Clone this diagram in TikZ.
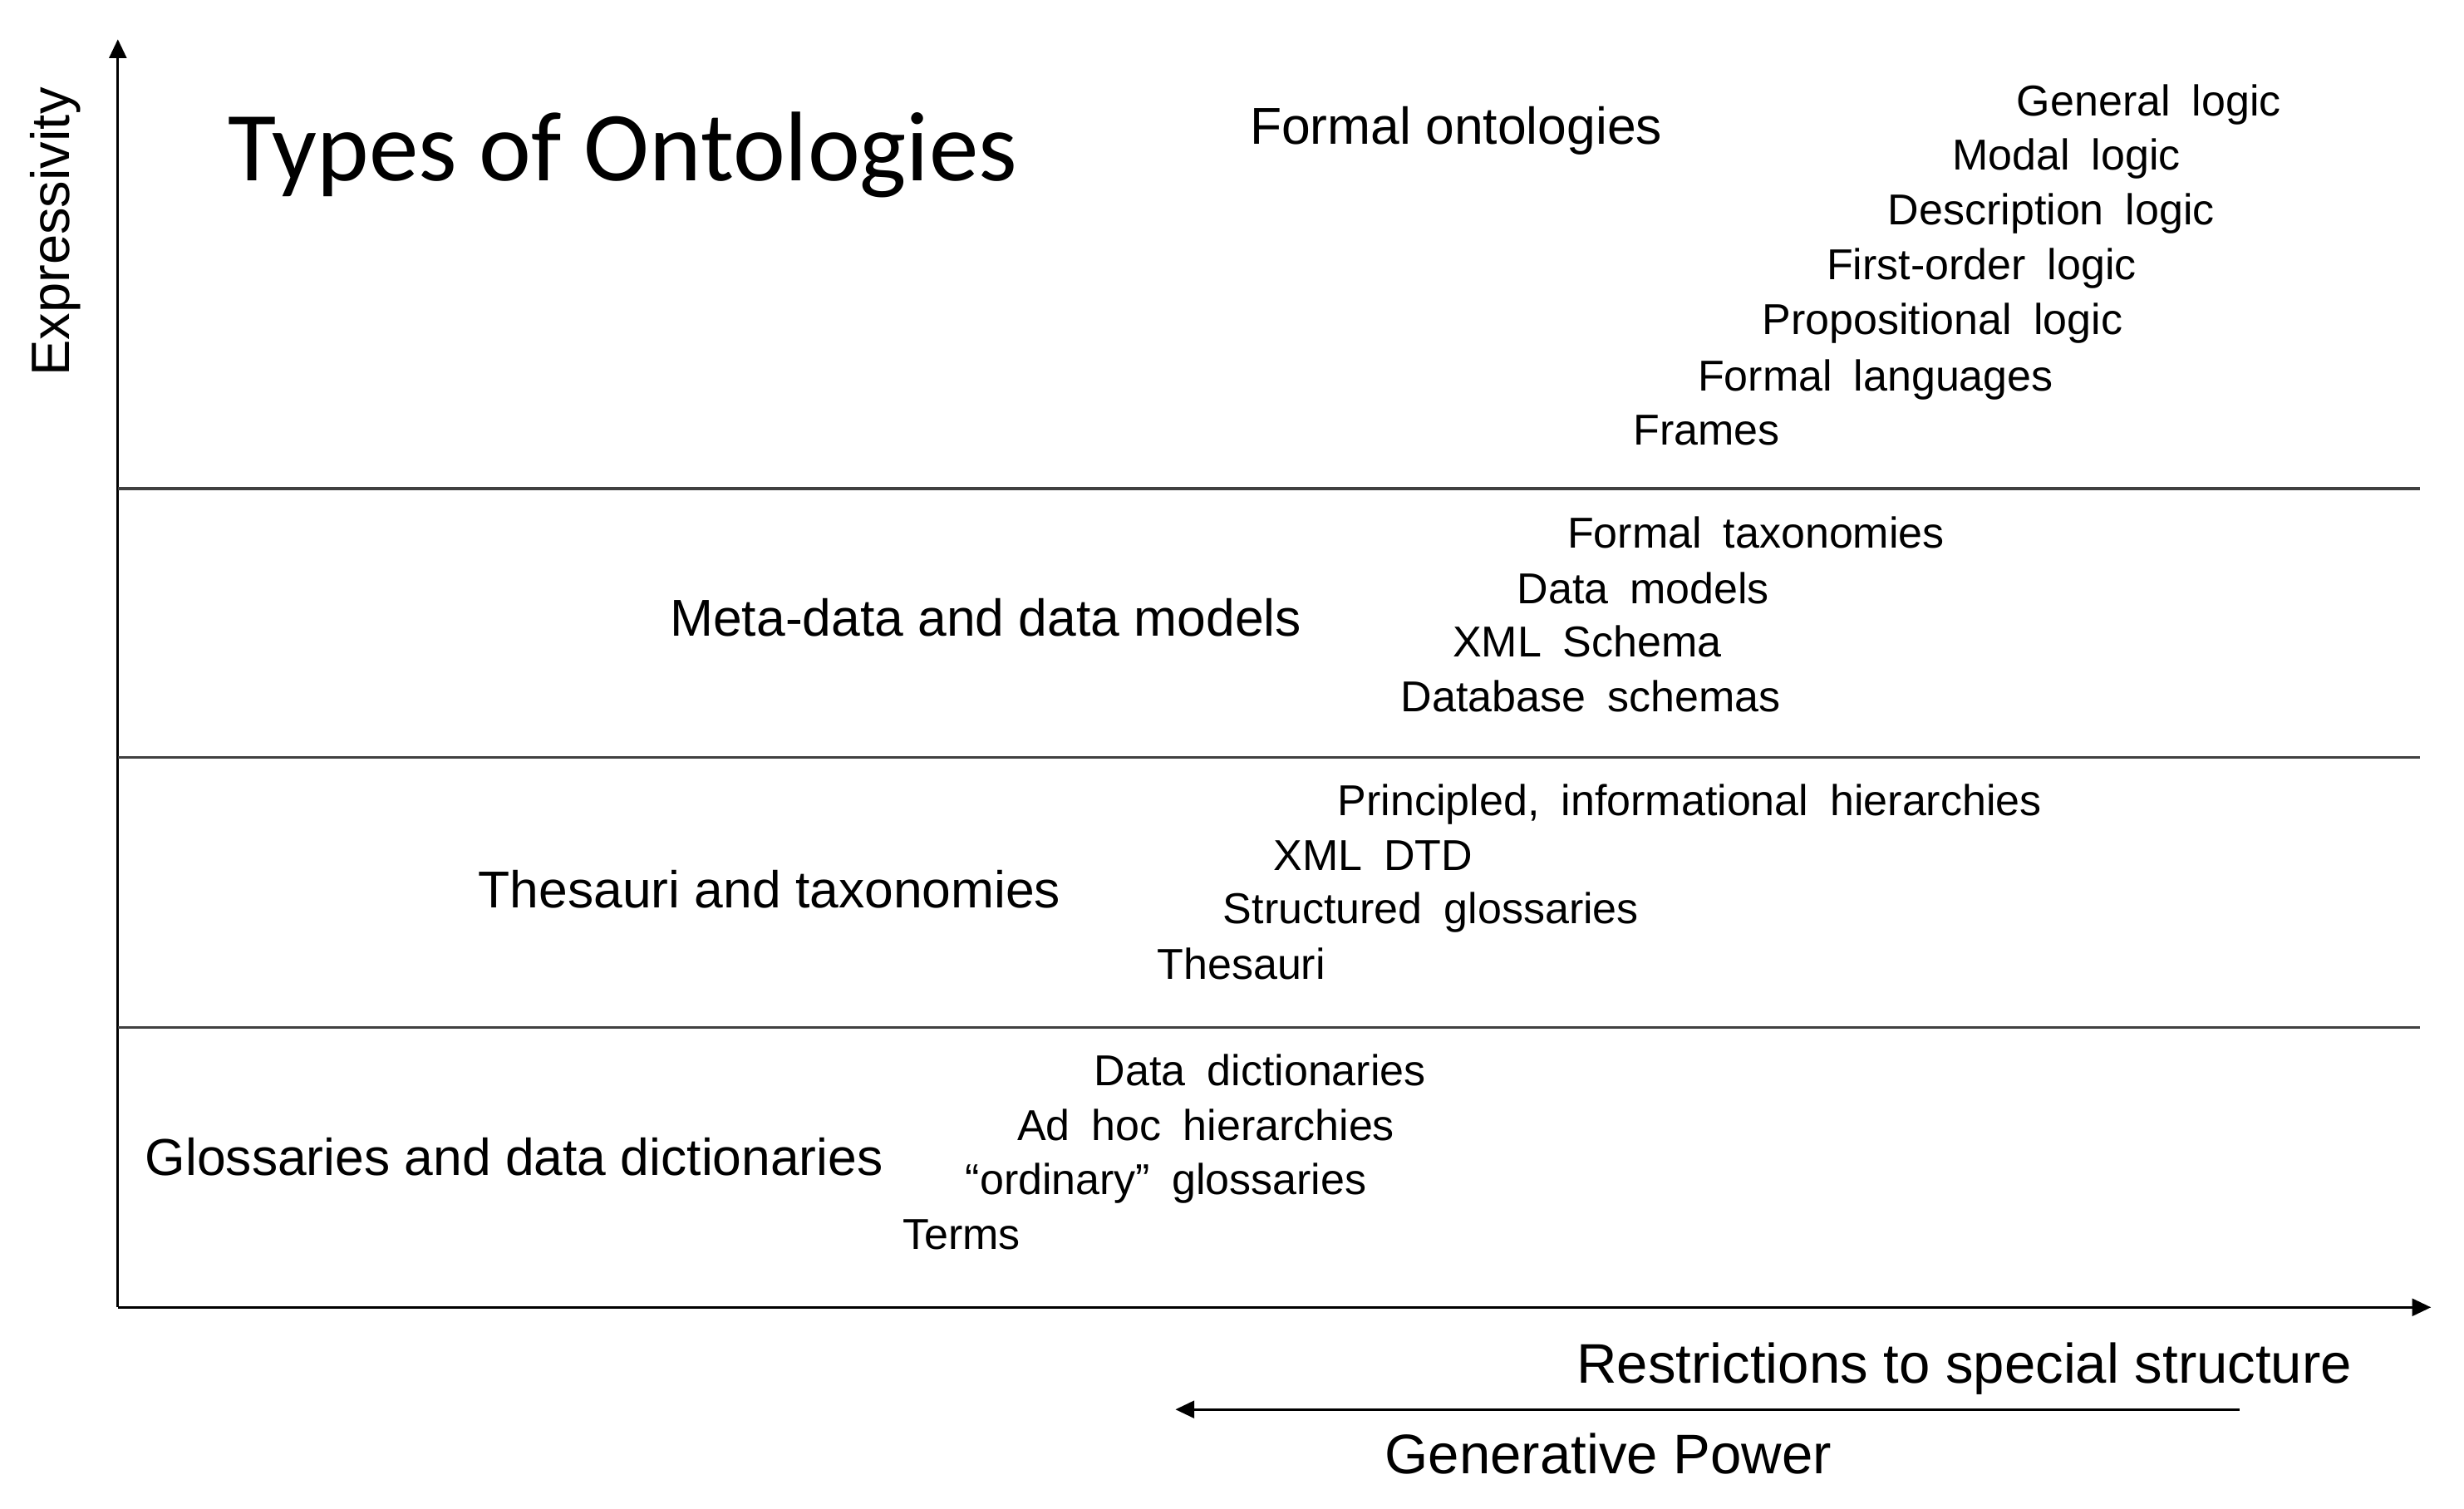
\documentclass[tikz,border=0pt]{standalone}
\usepackage{fontspec}
\setmainfont{Liberation Sans}
\newfontfamily\titlefont{Carlito}
\newfontfamily\entryfont[WordSpace=1.8]{Liberation Sans}
\usetikzlibrary{arrows.meta}
\tikzset{
 axis/.style={line width=.8pt,-{Triangle[length=6pt,width=5.5pt]}},
 divider/.style={line width=.9pt,draw=black!75},
 heading/.style={anchor=base west,inner sep=0,font=\titlefont\fontsize{31.5}{36}\selectfont},
 band/.style={anchor=base west,inner sep=0,font=\fontsize{16.5}{20}\selectfont},
 entry/.style={anchor=base west,inner sep=0,font=\entryfont\fontsize{13.75}{16}\selectfont},
 axislabel/.style={anchor=base west,inner sep=0,font=\fontsize{17.75}{21}\selectfont}
}
\begin{document}
\begin{tikzpicture}[x=.5pt,y=-.5pt]
\path[use as bounding box] (0,0) rectangle (1568,960);
% axes
\coordinate (O) at (75,832);
\coordinate (Ytop) at (75,25);
\coordinate (Xend) at (1547,832);
\draw[axis] (O) -- (Ytop);
\draw[axis] (O) -- (Xend);
\node[anchor=base,inner sep=0,rotate=90,font=\fontsize{17.2}{21}\selectfont] (expr) at (44,147.5) {Expressivity};
% dividers between the bands
\coordinate (L1) at (75,311);
\coordinate (R1) at (1540,311);
\coordinate (L2) at (75,482);
\coordinate (R2) at (1540,482);
\coordinate (L3) at (75,654);
\coordinate (R3) at (1540,654);
\draw[divider] (L1) -- (R1);
\draw[divider] (L2) -- (R2);
\draw[divider] (L3) -- (R3);
\node[heading] (title) at (145,115) {Types of Ontologies};
% formal ontologies
\node[band] (formal) at (795,92) {Formal ontologies};
\node[entry] (genlogic) at (1283,74) {General logic};
\node[entry] (modal) at (1242,108) {Modal logic};
\node[entry] (descr) at (1201,143) {Description logic};
\node[entry] (fol) at (1162,178) {First-order logic};
\node[entry] (prop) at (1121,213) {Propositional logic};
\node[entry] (formlang) at (1080,249) {Formal languages};
\node[entry] (frames) at (1039,283) {Frames};
% meta-data
\node[band] (meta) at (426,405) {Meta-data and data models};
\node[entry] (formtax) at (997,349) {Formal taxonomies};
\node[entry] (datamod) at (965,384) {Data models};
\node[entry] (xmlschema) at (924,418) {XML Schema};
\node[entry] (dbschema) at (891,453) {Database schemas};
% thesauri
\node[band] (thes) at (304,578) {Thesauri and taxonomies};
\node[entry] (princ) at (851,519) {Principled, informational hierarchies};
\node[entry] (xmldtd) at (810,554) {XML DTD};
\node[entry] (structgl) at (778,588) {Structured glossaries};
\node[entry] (thesauri) at (736,623) {Thesauri};
% glossaries
\node[band] (gloss) at (92,748) {Glossaries and data dictionaries};
\node[entry] (datadict) at (696,691) {Data dictionaries};
\node[entry] (adhoc) at (647,726) {Ad hoc hierarchies};
\node[entry] (ordgl) at (614,760) {“ordinary” glossaries};
\node[entry] (terms) at (574,795) {Terms};
% below the x axis
\node[axislabel] (restr) at (1003,880) {Restrictions to special structure};
\coordinate (GPfrom) at (1425,897);
\coordinate (GPto) at (748,897);
\draw[axis] (GPfrom) -- (GPto);
\node[axislabel] (genpow) at (881,938) {Generative Power};
\end{tikzpicture}
\end{document}
